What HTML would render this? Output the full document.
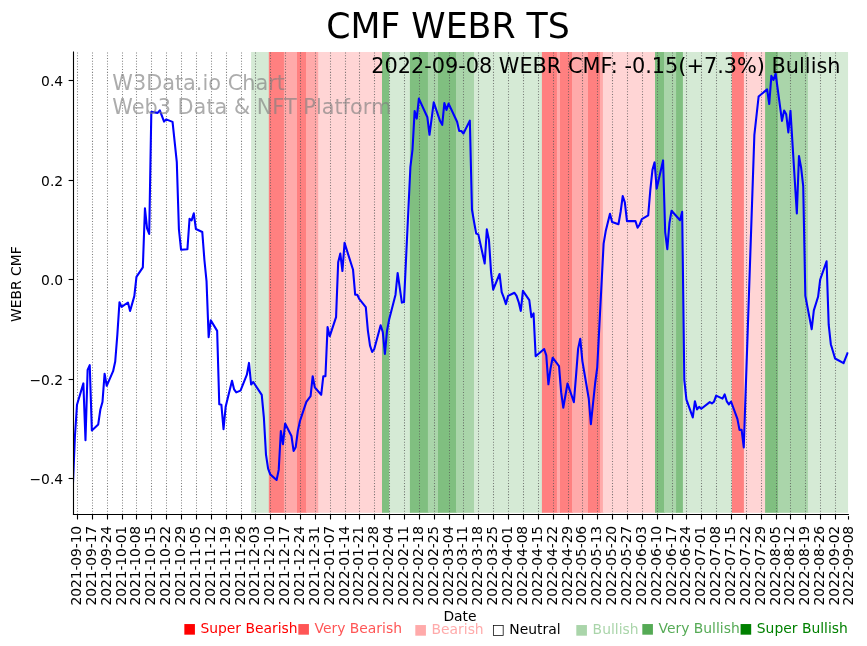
<!DOCTYPE html>
<html><head><meta charset="utf-8"><title>CMF WEBR TS</title>
<style>html,body{margin:0;padding:0;background:#fff}svg{display:block}text{font-family:"DejaVu Sans","Liberation Sans",sans-serif}</style></head><body>
<svg width="867" height="646" viewBox="0 0 867 646">
<rect width="867" height="646" fill="#fff"/>
<g>
<rect x="251.1" y="52.0" width="18.7" height="460.8" fill="rgb(213,234,213)"/>
<rect x="268.8" y="52.0" width="16.1" height="460.8" fill="rgb(255,128,128)"/>
<rect x="283.9" y="52.0" width="14.1" height="460.8" fill="rgb(255,170,170)"/>
<rect x="297.0" y="52.0" width="10.0" height="460.8" fill="rgb(255,128,128)"/>
<rect x="306.0" y="52.0" width="13.2" height="460.8" fill="rgb(255,170,170)"/>
<rect x="318.2" y="52.0" width="64.8" height="460.8" fill="rgb(255,213,213)"/>
<rect x="382.0" y="52.0" width="8.2" height="460.8" fill="rgb(128,191,128)"/>
<rect x="389.2" y="52.0" width="21.7" height="460.8" fill="rgb(213,234,213)"/>
<rect x="409.9" y="52.0" width="19.0" height="460.8" fill="rgb(128,191,128)"/>
<rect x="427.9" y="52.0" width="11.1" height="460.8" fill="rgb(170,213,170)"/>
<rect x="438.0" y="52.0" width="19.0" height="460.8" fill="rgb(128,191,128)"/>
<rect x="456.0" y="52.0" width="19.0" height="460.8" fill="rgb(170,213,170)"/>
<rect x="474.0" y="52.0" width="68.9" height="460.8" fill="rgb(213,234,213)"/>
<rect x="541.9" y="52.0" width="16.0" height="460.8" fill="rgb(255,128,128)"/>
<rect x="556.9" y="52.0" width="4.1" height="460.8" fill="rgb(255,170,170)"/>
<rect x="560.0" y="52.0" width="13.0" height="460.8" fill="rgb(255,128,128)"/>
<rect x="572.0" y="52.0" width="17.0" height="460.8" fill="rgb(255,170,170)"/>
<rect x="588.0" y="52.0" width="13.0" height="460.8" fill="rgb(255,128,128)"/>
<rect x="600.0" y="52.0" width="3.9" height="460.8" fill="rgb(255,170,170)"/>
<rect x="602.9" y="52.0" width="53.1" height="460.8" fill="rgb(255,213,213)"/>
<rect x="655.0" y="52.0" width="10.0" height="460.8" fill="rgb(128,191,128)"/>
<rect x="664.0" y="52.0" width="13.1" height="460.8" fill="rgb(170,213,170)"/>
<rect x="676.1" y="52.0" width="7.8" height="460.8" fill="rgb(128,191,128)"/>
<rect x="682.9" y="52.0" width="50.0" height="460.8" fill="rgb(213,234,213)"/>
<rect x="731.9" y="52.0" width="13.0" height="460.8" fill="rgb(255,128,128)"/>
<rect x="743.9" y="52.0" width="22.2" height="460.8" fill="rgb(255,213,213)"/>
<rect x="765.1" y="52.0" width="13.9" height="460.8" fill="rgb(128,191,128)"/>
<rect x="778.0" y="52.0" width="30.9" height="460.8" fill="rgb(170,213,170)"/>
<rect x="807.9" y="52.0" width="40.15" height="460.8" fill="rgb(213,234,213)"/>
</g>
<g stroke="#555" stroke-opacity="0.75" stroke-width="1.04" stroke-dasharray="1.04 1.72" fill="none">
<line x1="77.5" y1="514.48" x2="77.5" y2="52"/>
<line x1="92.5" y1="514.48" x2="92.5" y2="52"/>
<line x1="107.5" y1="514.48" x2="107.5" y2="52"/>
<line x1="122.5" y1="514.48" x2="122.5" y2="52"/>
<line x1="136.5" y1="514.48" x2="136.5" y2="52"/>
<line x1="151.5" y1="514.48" x2="151.5" y2="52"/>
<line x1="166.5" y1="514.48" x2="166.5" y2="52"/>
<line x1="181.5" y1="514.48" x2="181.5" y2="52"/>
<line x1="196.5" y1="514.48" x2="196.5" y2="52"/>
<line x1="211.5" y1="514.48" x2="211.5" y2="52"/>
<line x1="226.5" y1="514.48" x2="226.5" y2="52"/>
<line x1="241.5" y1="514.48" x2="241.5" y2="52"/>
<line x1="255.5" y1="514.48" x2="255.5" y2="52"/>
<line x1="270.5" y1="514.48" x2="270.5" y2="52"/>
<line x1="285.5" y1="514.48" x2="285.5" y2="52"/>
<line x1="300.5" y1="514.48" x2="300.5" y2="52"/>
<line x1="315.5" y1="514.48" x2="315.5" y2="52"/>
<line x1="330.5" y1="514.48" x2="330.5" y2="52"/>
<line x1="345.5" y1="514.48" x2="345.5" y2="52"/>
<line x1="359.5" y1="514.48" x2="359.5" y2="52"/>
<line x1="374.5" y1="514.48" x2="374.5" y2="52"/>
<line x1="389.5" y1="514.48" x2="389.5" y2="52"/>
<line x1="404.5" y1="514.48" x2="404.5" y2="52"/>
<line x1="419.5" y1="514.48" x2="419.5" y2="52"/>
<line x1="434.5" y1="514.48" x2="434.5" y2="52"/>
<line x1="449.5" y1="514.48" x2="449.5" y2="52"/>
<line x1="463.5" y1="514.48" x2="463.5" y2="52"/>
<line x1="478.5" y1="514.48" x2="478.5" y2="52"/>
<line x1="493.5" y1="514.48" x2="493.5" y2="52"/>
<line x1="508.5" y1="514.48" x2="508.5" y2="52"/>
<line x1="523.5" y1="514.48" x2="523.5" y2="52"/>
<line x1="538.5" y1="514.48" x2="538.5" y2="52"/>
<line x1="553.5" y1="514.48" x2="553.5" y2="52"/>
<line x1="568.5" y1="514.48" x2="568.5" y2="52"/>
<line x1="582.5" y1="514.48" x2="582.5" y2="52"/>
<line x1="597.5" y1="514.48" x2="597.5" y2="52"/>
<line x1="612.5" y1="514.48" x2="612.5" y2="52"/>
<line x1="627.5" y1="514.48" x2="627.5" y2="52"/>
<line x1="642.5" y1="514.48" x2="642.5" y2="52"/>
<line x1="657.5" y1="514.48" x2="657.5" y2="52"/>
<line x1="672.5" y1="514.48" x2="672.5" y2="52"/>
<line x1="686.5" y1="514.48" x2="686.5" y2="52"/>
<line x1="701.5" y1="514.48" x2="701.5" y2="52"/>
<line x1="716.5" y1="514.48" x2="716.5" y2="52"/>
<line x1="731.5" y1="514.48" x2="731.5" y2="52"/>
<line x1="746.5" y1="514.48" x2="746.5" y2="52"/>
<line x1="761.5" y1="514.48" x2="761.5" y2="52"/>
<line x1="776.5" y1="514.48" x2="776.5" y2="52"/>
<line x1="790.5" y1="514.48" x2="790.5" y2="52"/>
<line x1="805.5" y1="514.48" x2="805.5" y2="52"/>
<line x1="820.5" y1="514.48" x2="820.5" y2="52"/>
<line x1="835.5" y1="514.48" x2="835.5" y2="52"/>
</g>
<clipPath id="c"><rect x="73.5" y="52" width="775.2" height="462.5"/></clipPath>
<polyline clip-path="url(#c)" points="72.75,489 74.9,437 77.0,404.8 83.37,383.4 85.49,440.2 87.62,369.9 89.74,365.2 91.86,430.4 98.23,424.4 100.36,409.5 102.48,402 104.6,373.7 106.73,385.8 113.1,371.2 115.22,361.5 117.35,334.7 119.47,302.3 121.59,306.8 127.96,302.5 130.09,311 134.33,296.1 136.46,276.9 142.83,267.4 144.95,208.3 147.07,228.3 149.2,234.0 151.32,111.9 157.69,112.9 159.81,110.4 164.06,121.6 166.18,119.4 172.55,121.9 176.8,162.2 178.92,229.5 181.05,249.7 187.42,249.2 189.54,218.8 191.67,220.3 193.79,213.3 195.91,229.0 202.28,232.0 204.41,260 206.53,281.1 208.65,337.2 210.78,320.2 217.15,330.9 219.27,404.3 221.39,404.8 223.52,429.2 225.64,406.8 232.01,380.7 234.13,389.4 236.26,392.4 240.5,390.6 246.87,374.7 249.0,362.9 251.12,384.5 253.24,382 261.74,394.9 263.86,417.3 265.99,454.6 268.11,468.7 270.23,474.4 276.6,480.0 278.73,469.9 280.85,431.1 282.97,444.2 285.1,423.5 291.47,436 293.59,450.9 295.71,447.2 297.84,431 299.96,421 306.33,401.8 310.58,396.1 312.7,376.2 314.82,387.4 321.19,394.8 323.32,376.2 325.44,376.2 327.56,327.1 329.69,336.3 336.06,317.1 338.18,262.3 340.31,253.6 342.43,271 344.55,242.9 353.05,269.8 355.17,294.7 357.29,294.7 359.42,299.2 365.79,307.1 367.91,330.8 370.03,345.7 372.16,352 374.28,349 380.65,325.3 382.77,332 384.9,354 387.02,330.7 389.14,319.6 395.51,294.7 397.64,273 401.88,302.6 404.01,302.1 410.38,167.2 412.5,149.7 414.63,111.1 416.75,118.6 418.87,98.6 427.37,117.3 429.49,134.8 433.74,102.4 440.11,121.1 442.23,124.8 444.35,103.1 446.48,109.9 448.6,103.6 454.97,117.3 457.09,121.8 459.22,131 461.34,131 463.46,133.5 469.83,120.6 471.96,209.5 474.08,222 476.2,233.6 478.33,234.4 484.7,263.5 486.82,229.4 488.95,239.9 491.07,272.2 493.19,289.7 499.56,274 501.69,292.2 503.81,297.7 505.93,304.1 508.06,295.9 514.43,292.7 516.55,295.9 518.67,302.1 520.8,310.9 522.92,290.9 529.29,300.1 531.41,317.1 533.54,313.4 535.66,356.3 544.15,349.0 546.28,355.3 548.4,384.3 550.52,368.6 552.65,357.7 559.02,366.1 561.14,392.2 563.27,407.7 567.51,383.5 573.88,402.2 576.01,376.1 578.13,348.6 580.25,338.8 582.38,361.1 588.75,398.5 590.87,424.1 595.12,383.5 597.24,367.3 603.61,243.6 605.73,231.1 609.98,213.7 612.1,221.9 618.47,224.2 620.6,212 622.72,196.1 624.84,202.3 626.97,221.1 635.46,221.1 637.59,227.8 639.71,224.5 641.83,219.2 648.2,215.4 650.33,189.8 652.45,169.9 654.57,162.4 656.7,188.6 663.07,160.4 665.19,232.3 667.31,249.1 669.44,223 671.56,210.8 680.05,220.2 682.18,211.7 684.3,379.8 686.42,399.7 692.79,417.4 694.92,401.2 697.04,409.4 699.16,406.8 701.29,408.8 709.78,402.1 711.91,403.4 714.03,401.7 716.15,395.6 722.52,398.6 724.65,394.4 726.77,401.3 728.89,404.4 731.02,401.5 737.39,418.9 739.51,429.9 741.63,429.9 743.76,447.4 754.37,134.9 758.62,96.5 767.11,89.4 769.24,104 771.36,75.9 773.49,80 775.61,73.5 781.98,120.9 784.1,110.6 786.23,114.3 788.35,132.5 790.47,110.9 796.84,213.5 798.97,156.0 801.09,167.4 803.21,186.1 805.34,295.9 811.71,329.2 813.83,310.4 818.08,296.8 820.2,279.5 826.57,261.3 828.69,324.7 830.82,344.2 835.06,358.5 843.56,363.2 847.81,352.3" fill="none" stroke="#0000ff" stroke-width="2.08" stroke-linejoin="round" stroke-linecap="butt"/>
<g stroke="#000" stroke-width="1.11" fill="none">
<line x1="73.5" y1="51.5" x2="73.5" y2="515.05"/>
<line x1="72.95" y1="514.5" x2="848.85" y2="514.5"/>
<line x1="77.5" y1="514.5" x2="77.5" y2="519.5"/>
<line x1="92.5" y1="514.5" x2="92.5" y2="519.5"/>
<line x1="107.5" y1="514.5" x2="107.5" y2="519.5"/>
<line x1="122.5" y1="514.5" x2="122.5" y2="519.5"/>
<line x1="136.5" y1="514.5" x2="136.5" y2="519.5"/>
<line x1="151.5" y1="514.5" x2="151.5" y2="519.5"/>
<line x1="166.5" y1="514.5" x2="166.5" y2="519.5"/>
<line x1="181.5" y1="514.5" x2="181.5" y2="519.5"/>
<line x1="196.5" y1="514.5" x2="196.5" y2="519.5"/>
<line x1="211.5" y1="514.5" x2="211.5" y2="519.5"/>
<line x1="226.5" y1="514.5" x2="226.5" y2="519.5"/>
<line x1="241.5" y1="514.5" x2="241.5" y2="519.5"/>
<line x1="255.5" y1="514.5" x2="255.5" y2="519.5"/>
<line x1="270.5" y1="514.5" x2="270.5" y2="519.5"/>
<line x1="285.5" y1="514.5" x2="285.5" y2="519.5"/>
<line x1="300.5" y1="514.5" x2="300.5" y2="519.5"/>
<line x1="315.5" y1="514.5" x2="315.5" y2="519.5"/>
<line x1="330.5" y1="514.5" x2="330.5" y2="519.5"/>
<line x1="345.5" y1="514.5" x2="345.5" y2="519.5"/>
<line x1="359.5" y1="514.5" x2="359.5" y2="519.5"/>
<line x1="374.5" y1="514.5" x2="374.5" y2="519.5"/>
<line x1="389.5" y1="514.5" x2="389.5" y2="519.5"/>
<line x1="404.5" y1="514.5" x2="404.5" y2="519.5"/>
<line x1="419.5" y1="514.5" x2="419.5" y2="519.5"/>
<line x1="434.5" y1="514.5" x2="434.5" y2="519.5"/>
<line x1="449.5" y1="514.5" x2="449.5" y2="519.5"/>
<line x1="463.5" y1="514.5" x2="463.5" y2="519.5"/>
<line x1="478.5" y1="514.5" x2="478.5" y2="519.5"/>
<line x1="493.5" y1="514.5" x2="493.5" y2="519.5"/>
<line x1="508.5" y1="514.5" x2="508.5" y2="519.5"/>
<line x1="523.5" y1="514.5" x2="523.5" y2="519.5"/>
<line x1="538.5" y1="514.5" x2="538.5" y2="519.5"/>
<line x1="553.5" y1="514.5" x2="553.5" y2="519.5"/>
<line x1="568.5" y1="514.5" x2="568.5" y2="519.5"/>
<line x1="582.5" y1="514.5" x2="582.5" y2="519.5"/>
<line x1="597.5" y1="514.5" x2="597.5" y2="519.5"/>
<line x1="612.5" y1="514.5" x2="612.5" y2="519.5"/>
<line x1="627.5" y1="514.5" x2="627.5" y2="519.5"/>
<line x1="642.5" y1="514.5" x2="642.5" y2="519.5"/>
<line x1="657.5" y1="514.5" x2="657.5" y2="519.5"/>
<line x1="672.5" y1="514.5" x2="672.5" y2="519.5"/>
<line x1="686.5" y1="514.5" x2="686.5" y2="519.5"/>
<line x1="701.5" y1="514.5" x2="701.5" y2="519.5"/>
<line x1="716.5" y1="514.5" x2="716.5" y2="519.5"/>
<line x1="731.5" y1="514.5" x2="731.5" y2="519.5"/>
<line x1="746.5" y1="514.5" x2="746.5" y2="519.5"/>
<line x1="761.5" y1="514.5" x2="761.5" y2="519.5"/>
<line x1="776.5" y1="514.5" x2="776.5" y2="519.5"/>
<line x1="790.5" y1="514.5" x2="790.5" y2="519.5"/>
<line x1="805.5" y1="514.5" x2="805.5" y2="519.5"/>
<line x1="820.5" y1="514.5" x2="820.5" y2="519.5"/>
<line x1="835.5" y1="514.5" x2="835.5" y2="519.5"/>
<line x1="848.5" y1="516.1" x2="848.5" y2="519.6"/>
<line x1="68.6" y1="80.5" x2="73.5" y2="80.5"/>
<line x1="68.6" y1="180.5" x2="73.5" y2="180.5"/>
<line x1="68.6" y1="279.5" x2="73.5" y2="279.5"/>
<line x1="68.6" y1="379.5" x2="73.5" y2="379.5"/>
<line x1="68.6" y1="478.5" x2="73.5" y2="478.5"/>
</g>
<g font-size="13.89" text-anchor="end" fill="#000">
<text x="63.2" y="85.8">0.4</text>
<text x="63.2" y="185.8">0.2</text>
<text x="63.2" y="284.8">0.0</text>
<text x="63.2" y="384.8">−0.2</text>
<text x="63.2" y="483.8">−0.4</text>
</g>
<text font-size="13.89" text-anchor="middle" transform="translate(20.6,284.2) rotate(-90)">WEBR CMF</text>
<g font-size="13.89" text-anchor="end" fill="#000" letter-spacing="-0.11">
<text transform="translate(81.0,525.9) rotate(-90)">2021-09-10</text>
<text transform="translate(96.0,525.9) rotate(-90)">2021-09-17</text>
<text transform="translate(111.0,525.9) rotate(-90)">2021-09-24</text>
<text transform="translate(126.0,525.9) rotate(-90)">2021-10-01</text>
<text transform="translate(140.0,525.9) rotate(-90)">2021-10-08</text>
<text transform="translate(155.0,525.9) rotate(-90)">2021-10-15</text>
<text transform="translate(170.0,525.9) rotate(-90)">2021-10-22</text>
<text transform="translate(185.0,525.9) rotate(-90)">2021-10-29</text>
<text transform="translate(200.0,525.9) rotate(-90)">2021-11-05</text>
<text transform="translate(215.0,525.9) rotate(-90)">2021-11-12</text>
<text transform="translate(230.0,525.9) rotate(-90)">2021-11-19</text>
<text transform="translate(245.0,525.9) rotate(-90)">2021-11-26</text>
<text transform="translate(259.0,525.9) rotate(-90)">2021-12-03</text>
<text transform="translate(274.0,525.9) rotate(-90)">2021-12-10</text>
<text transform="translate(289.0,525.9) rotate(-90)">2021-12-17</text>
<text transform="translate(304.0,525.9) rotate(-90)">2021-12-24</text>
<text transform="translate(319.0,525.9) rotate(-90)">2021-12-31</text>
<text transform="translate(334.0,525.9) rotate(-90)">2022-01-07</text>
<text transform="translate(349.0,525.9) rotate(-90)">2022-01-14</text>
<text transform="translate(363.0,525.9) rotate(-90)">2022-01-21</text>
<text transform="translate(378.0,525.9) rotate(-90)">2022-01-28</text>
<text transform="translate(393.0,525.9) rotate(-90)">2022-02-04</text>
<text transform="translate(408.0,525.9) rotate(-90)">2022-02-11</text>
<text transform="translate(423.0,525.9) rotate(-90)">2022-02-18</text>
<text transform="translate(438.0,525.9) rotate(-90)">2022-02-25</text>
<text transform="translate(453.0,525.9) rotate(-90)">2022-03-04</text>
<text transform="translate(467.0,525.9) rotate(-90)">2022-03-11</text>
<text transform="translate(482.0,525.9) rotate(-90)">2022-03-18</text>
<text transform="translate(497.0,525.9) rotate(-90)">2022-03-25</text>
<text transform="translate(512.0,525.9) rotate(-90)">2022-04-01</text>
<text transform="translate(527.0,525.9) rotate(-90)">2022-04-08</text>
<text transform="translate(542.0,525.9) rotate(-90)">2022-04-15</text>
<text transform="translate(557.0,525.9) rotate(-90)">2022-04-22</text>
<text transform="translate(572.0,525.9) rotate(-90)">2022-04-29</text>
<text transform="translate(586.0,525.9) rotate(-90)">2022-05-06</text>
<text transform="translate(601.0,525.9) rotate(-90)">2022-05-13</text>
<text transform="translate(616.0,525.9) rotate(-90)">2022-05-20</text>
<text transform="translate(631.0,525.9) rotate(-90)">2022-05-27</text>
<text transform="translate(646.0,525.9) rotate(-90)">2022-06-03</text>
<text transform="translate(661.0,525.9) rotate(-90)">2022-06-10</text>
<text transform="translate(676.0,525.9) rotate(-90)">2022-06-17</text>
<text transform="translate(690.0,525.9) rotate(-90)">2022-06-24</text>
<text transform="translate(705.0,525.9) rotate(-90)">2022-07-01</text>
<text transform="translate(720.0,525.9) rotate(-90)">2022-07-08</text>
<text transform="translate(735.0,525.9) rotate(-90)">2022-07-15</text>
<text transform="translate(750.0,525.9) rotate(-90)">2022-07-22</text>
<text transform="translate(765.0,525.9) rotate(-90)">2022-07-29</text>
<text transform="translate(780.0,525.9) rotate(-90)">2022-08-05</text>
<text transform="translate(794.0,525.9) rotate(-90)">2022-08-12</text>
<text transform="translate(809.0,525.9) rotate(-90)">2022-08-19</text>
<text transform="translate(824.0,525.9) rotate(-90)">2022-08-26</text>
<text transform="translate(839.0,525.9) rotate(-90)">2022-09-02</text>
<text transform="translate(852.8,525.9) rotate(-90)">2022-09-08</text>
</g>
<text font-size="13.89" text-anchor="middle" x="460" y="621">Date</text>
<text font-size="34.72" text-anchor="middle" x="448" y="38.15">CMF WEBR TS</text>
<g font-size="20.83" fill="#808080" fill-opacity="0.65"><text x="112.3" y="90.3">W3Data.io Chart</text><text x="112.3" y="113.5">Web3 Data &amp; NFT Platform</text></g>
<text font-size="20.83" text-anchor="end" x="840.5" y="72.8">2022-09-08 WEBR CMF: -0.15(+7.3%) Bullish</text>
<g font-size="13.89">
<text x="182.9" y="632.9" fill="rgb(255,0,0)">■ Super Bearish</text>
<text x="297.0" y="632.9" fill="rgb(255,85,85)">■ Very Bearish</text>
<text x="414.0" y="633.7" fill="rgb(255,170,170)">■ Bearish</text>
<text x="491.8" y="633.7" fill="#000">□ Neutral</text>
<text x="575.1" y="633.7" fill="rgb(170,213,170)">■ Bullish</text>
<text x="641.0" y="632.9" fill="rgb(85,170,85)">■ Very Bullish</text>
<text x="739.3" y="632.9" fill="rgb(0,128,0)">■ Super Bullish</text>
</g>
</svg></body></html>
